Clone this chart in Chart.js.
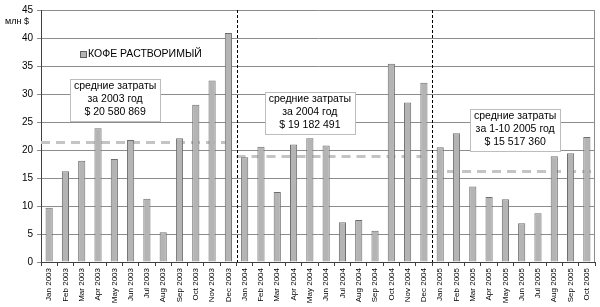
<!DOCTYPE html>
<html lang="ru">
<head>
<meta charset="UTF-8">
<title>Кофе растворимый</title>
<script src="https://cdn.jsdelivr.net/npm/chart.js@4.4.0/dist/chart.umd.min.js"></script>
<style>
  body { margin: 0; background: #fff; }
  #wrap { width: 600px; height: 307px; }
</style>
</head>
<body>
<div id="wrap"><canvas id="chart" width="600" height="307"></canvas></div>
<script>
const months = [
  'Jan 2003','Feb 2003','Mar 2003','Apr 2003','May 2003','Jun 2003','Jul 2003','Aug 2003','Sep 2003','Oct 2003','Nov 2003','Dec 2003',
  'Jan 2004','Feb 2004','Mar 2004','Apr 2004','May 2004','Jun 2004','Jul 2004','Aug 2004','Sep 2004','Oct 2004','Nov 2004','Dec 2004',
  'Jan 2005','Feb 2005','Mar 2005','Apr 2005','May 2005','Jun 2005','Jul 2005','Aug 2005','Sep 2005','Oct 2005'
];
const coffee = [
  9.7, 16.2, 18.1, 23.9, 18.4, 21.8, 11.3, 5.3, 22.1, 28.1, 32.4, 40.9,
  18.7, 20.6, 12.5, 21.0, 22.1, 20.8, 7.1, 7.5, 5.6, 35.4, 28.5, 32.0,
  20.5, 23.0, 13.5, 11.6, 11.2, 6.9, 8.7, 18.9, 19.4, 22.3
];
const seriesName = 'КОФЕ РАСТВОРИМЫЙ';
const yTicks = [0, 5, 10, 15, 20, 25, 30, 35, 40, 45];
const unitLabel = 'млн $';

// average periods: first / last month index and level
const periodStart = [0, 12, 24];
const periodEnd = [11, 23, 33];
const periodAvg = [21.4, 18.9, 16.3];
const periodNotes = [
  ['средние затраты', 'за 2003 год', '$ 20 580 869'],
  ['средние затраты', 'за 2004 год', '$ 19 182 491'],
  ['средние затраты', 'за 1-10 2005 год', '$ 15 517 360']
];
const yearBreaks = [11.5, 23.5];

// where the note boxes sit (category index of centre, value at top)
const notePos = [
  { x: 4.05, y: 32.6 },
  { x: 16.0, y: 30.4 },
  { x: 28.6, y: 27.4 }
];

const FONT = '"Liberation Sans", Arial, sans-serif';

const decorations = {
  id: 'decorations',
  beforeDatasetsDraw(chart) {
    const { ctx, chartArea, scales: { x, y } } = chart;
    const half = (x.getPixelForValue(1) - x.getPixelForValue(0)) / 2;
    ctx.save();
    // average lines
    ctx.strokeStyle = '#c4c4c4';
    ctx.lineWidth = 3;
    ctx.setLineDash([9, 6]);
    periodAvg.forEach((v, i) => {
      const py = Math.round(y.getPixelForValue(v)) + 0.5;
      ctx.beginPath();
      ctx.moveTo(x.getPixelForValue(periodStart[i]) - half, py);
      ctx.lineTo(x.getPixelForValue(periodEnd[i]) + half, py);
      ctx.stroke();
    });
    ctx.restore();
  },
  afterDraw(chart) {
    const { ctx, chartArea, scales: { x, y } } = chart;
    ctx.save();
    // right border of the plot
    ctx.strokeStyle = '#8c8c8c';
    ctx.lineWidth = 1;
    ctx.beginPath();
    ctx.moveTo(Math.round(chartArea.right) - 0.5, chartArea.top);
    ctx.lineTo(Math.round(chartArea.right) - 0.5, chartArea.bottom);
    ctx.stroke();

    // year breaks
    ctx.strokeStyle = '#000';
    ctx.setLineDash([3, 2]);
    yearBreaks.forEach(b => {
      const px = Math.round(x.getPixelForValue(b)) + 0.5;
      ctx.beginPath();
      ctx.moveTo(px, chartArea.top);
      ctx.lineTo(px, chartArea.bottom);
      ctx.stroke();
    });
    ctx.setLineDash([]);

    // unit label
    ctx.fillStyle = '#000';
    ctx.font = '9px ' + FONT;
    ctx.textAlign = 'left';
    ctx.textBaseline = 'middle';
    ctx.fillText(unitLabel, 5, 22);

    // legend
    const lx = Math.round(x.getPixelForValue(1.9));
    const ly = Math.round(y.getPixelForValue(37.2));
    ctx.fillStyle = '#b4b4b4';
    ctx.fillRect(lx, ly - 3, 6, 6);
    ctx.strokeStyle = '#606060';
    ctx.strokeRect(lx + 0.5, ly - 2.5, 6, 6);
    ctx.fillStyle = '#000';
    ctx.font = '10.5px ' + FONT;
    ctx.fillText(seriesName, lx + 8, ly + 0.5);

    // note boxes
    ctx.font = '10.5px ' + FONT;
    ctx.textAlign = 'center';
    ctx.textBaseline = 'top';
    periodNotes.forEach((lines, i) => {
      const cx = x.getPixelForValue(notePos[i].x);
      const top = Math.round(y.getPixelForValue(notePos[i].y));
      const w = Math.max(...lines.map(t => ctx.measureText(t).width)) + 8;
      const h = lines.length * 13 + 3;
      const left = Math.round(cx - w / 2);
      ctx.fillStyle = '#fff';
      ctx.fillRect(left, top, w, h);
      ctx.strokeStyle = '#bdbdbd';
      ctx.lineWidth = 1;
      ctx.strokeRect(left + 0.5, top + 0.5, Math.round(w), h);
      ctx.fillStyle = '#000';
      lines.forEach((t, k) => ctx.fillText(t, cx, top + 2 + k * 13));
    });
    ctx.restore();
  }
};

new Chart(document.getElementById('chart'), {
  type: 'bar',
  data: {
    labels: months,
    datasets: [{
      label: seriesName,
      data: coffee,
      backgroundColor: '#b4b4b4',
      borderColor: '#6e6e6e',
      borderWidth: 1,
      barPercentage: 0.44,
      categoryPercentage: 1
    }]
  },
  options: {
    responsive: false,
    animation: false,
    layout: { padding: { top: 9, right: 5, bottom: 0, left: 0 } },
    plugins: { legend: { display: false }, tooltip: { enabled: false } },
    scales: {
      x: {
        grid: { drawOnChartArea: false, drawTicks: true, tickLength: 4, color: '#404040', offset: true },
        border: { color: '#404040' },
        ticks: {
          autoSkip: false, minRotation: 90, maxRotation: 90, padding: 2,
          color: '#000', font: { family: FONT, size: 8 }
        },
        afterFit(scale) { scale.height = 45; }
      },
      y: {
        min: 0, max: 45,
        afterBuildTicks(scale) { scale.ticks = yTicks.map(v => ({ value: v })); },
        grid: { color: '#8c8c8c', tickLength: 4, drawTicks: true },
        border: { color: '#404040' },
        ticks: { color: '#000', padding: 4, font: { family: FONT, size: 10 } },
        afterFit(scale) { scale.width = 41; }
      }
    }
  },
  plugins: [decorations]
});
</script>
</body>
</html>
